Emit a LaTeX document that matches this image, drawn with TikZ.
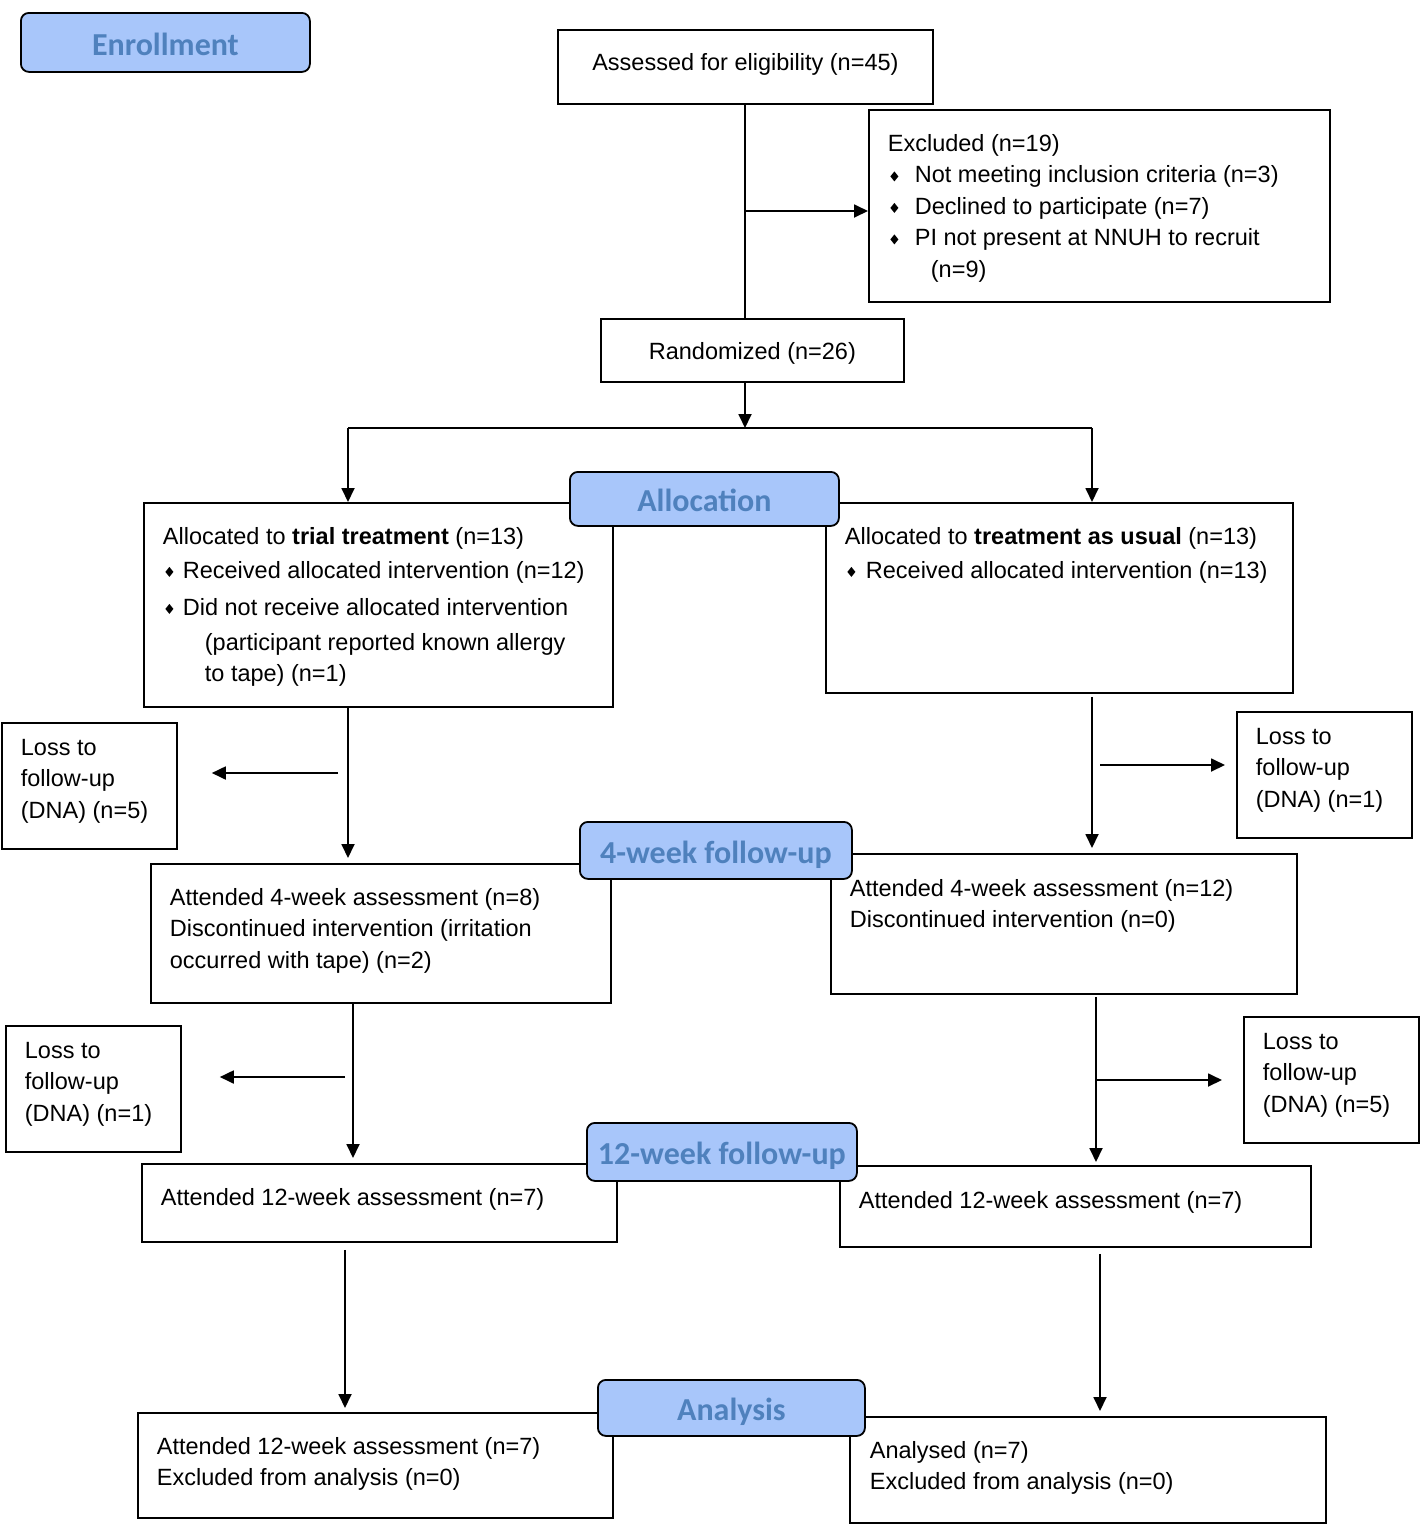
\documentclass[tikz,border=0pt]{standalone}
\usepackage{fontspec}
\setmainfont{Liberation Sans}
\newfontfamily\stagefont{Carlito}
\usetikzlibrary{arrows.meta}
\definecolor{stagefill}{RGB}{168,198,250}
\definecolor{stageblue}{RGB}{79,129,189}
% box text: width, height, first baseline, lines
\newcommand\boxtext[4]{\parbox[t][#2pt][t]{#1pt}{\raggedright\leftskip=19pt\rule{0pt}{#3pt}#4}}
\newcommand\dia[1]{\makebox[#1pt][l]{\hspace{2.5pt}\tikz[baseline=0pt]\fill (0pt,6.5pt) -- (4pt,11.5pt) -- (8pt,6.5pt) -- (4pt,1.5pt) -- cycle;}}

\begin{document}
\begin{tikzpicture}[
    x=1pt, y=-1pt,
    box/.style = {
      draw=black,
      line width=1.8pt,
      anchor=north west,
      inner sep=0pt,
      font=\fontsize{23.5}{31.5}\selectfont,
    },
    stage/.style = {
      draw=black,
      line width=1.8pt,
      rounded corners=8pt,
      fill=stagefill,
      text=stageblue,
      anchor=north west,
      inner sep=0pt,
      text height=28pt,
      text depth=2pt,
      font=\stagefont\bfseries\fontsize{32}{32}\selectfont,
    },
    arr/.style = {
      draw=black,
      line width=1.8pt,
      -{Triangle[length=14pt,width=13pt]},
    },
    line/.style = {
      draw=black,
      line width=1.8pt,
    },
  ]
  \useasboundingbox (0,0) rectangle (1423,1524);

  % boxes
  \node[box] (assess) at (557,29) {\boxtext{375}{74}{40.4}{\centering Assessed for eligibility (n=45)}};
  \node[box] (excl) at (868,109) {\boxtext{461}{192}{41.5}{Excluded (n=19)\\
      \dia{27}Not meeting inclusion criteria (n=3)\\
      \dia{27}Declined to participate (n=7)\\
      \dia{27}PI not present at NNUH to recruit\\
      \hspace*{43pt}(n=9)}};
  \node[box] (rand) at (600,318) {\boxtext{303}{63}{40.4}{\centering Randomized (n=26)}};

  \node[box] (trial) at (143,502) {\boxtext{469}{204}{41.5}{Allocated to \textbf{trial treatment} (n=13)\\[2.5pt]
      \dia{20}Received allocated intervention (n=12)\\[5.5pt]
      \dia{20}Did not receive allocated intervention\\[3.5pt]
      \hspace*{42pt}(participant reported known allergy\\
      \hspace*{42pt}to tape) (n=1)}};
  \node[box] (usual) at (825,502) {\boxtext{467}{190}{41.5}{Allocated to \textbf{treatment as usual} (n=13)\\[2.5pt]
      \dia{21}Received allocated intervention (n=13)}};

  \node[box] (lossA) at (1,722) {\boxtext{175}{126}{32.5}{Loss to\\ follow-up\\ (DNA) (n=5)}};
  \node[box] (lossB) at (1236,711) {\boxtext{175}{126}{32.5}{Loss to\\ follow-up\\ (DNA) (n=1)}};

  \node[box] (trial4) at (150,863) {\boxtext{460}{139}{41.5}{Attended 4-week assessment (n=8)\\
      Discontinued intervention (irritation\\
      occurred with tape) (n=2)}};
  \node[box] (usual4) at (830,853) {\boxtext{466}{140}{42.5}{Attended 4-week assessment (n=12)\\
      Discontinued intervention (n=0)}};

  \node[box] (lossC) at (5,1025) {\boxtext{175}{126}{32.5}{Loss to\\ follow-up\\ (DNA) (n=1)}};
  \node[box] (lossD) at (1243,1016) {\boxtext{175}{126}{32.5}{Loss to\\ follow-up\\ (DNA) (n=5)}};

  \node[box] (trial12) at (141,1163) {\boxtext{475}{78}{41.5}{Attended 12-week assessment (n=7)}};
  \node[box] (usual12) at (839,1165) {\boxtext{471}{81}{42.5}{Attended 12-week assessment (n=7)}};

  \node[box] (trialAn) at (137,1412) {\boxtext{475}{105}{41.5}{Attended 12-week assessment (n=7)\\
      Excluded from analysis (n=0)}};
  \node[box] (usualAn) at (849,1416) {\boxtext{476}{106}{41.5}{\hspace*{1pt}Analysed (n=7)\\
      \hspace*{1pt}Excluded from analysis (n=0)}};

  % connectors
  \coordinate (split) at (745,211);
  \coordinate (forkL) at (348,428);
  \coordinate (forkM) at (745,428);
  \coordinate (forkR) at (1092,428);
  \draw[line] (assess.south -| split) -- (rand.north -| split);
  \draw[arr] (split) -- (excl.west |- split);
  \draw[arr] (rand.south -| forkM) -- (forkM);
  \draw[line] (forkL) -- (forkR);
  \draw[arr] (forkL) -- (trial.north -| forkL);
  \draw[arr] (forkR) -- (usual.north -| forkR);

  \coordinate (trunkA) at (348,773);
  \coordinate (trunkB) at (1092,765);
  \draw[arr, shorten >=5pt] (trial.south -| trunkA) -- (trial4.north -| trunkA);
  \draw[arr, shorten <=10pt, shorten >=34pt] (trunkA) -- (lossA.east |- trunkA);
  \draw[arr, shorten <=3pt, shorten >=5pt] (usual.south -| trunkB) -- (usual4.north -| trunkB);
  \draw[arr, shorten <=8pt, shorten >=11pt] (trunkB) -- (lossB.west |- trunkB);

  \coordinate (trunkC) at (353,1077);
  \coordinate (trunkD) at (1096,1080);
  \draw[arr, shorten >=5pt] (trial4.south -| trunkC) -- (trial12.north -| trunkC);
  \draw[arr, shorten <=8pt, shorten >=38pt] (trunkC) -- (lossC.east |- trunkC);
  \draw[arr, shorten <=2pt, shorten >=3pt] (usual4.south -| trunkD) -- (usual12.north -| trunkD);
  \draw[arr, shorten <=1pt, shorten >=21pt] (trunkD) -- (lossD.west |- trunkD);

  \coordinate (trunkE) at (345,1330);
  \coordinate (trunkF) at (1100,1330);
  \draw[arr, shorten <=7pt, shorten >=4pt] (trial12.south -| trunkE) -- (trialAn.north -| trunkE);
  \draw[arr, shorten <=6pt, shorten >=5pt] (usual12.south -| trunkF) -- (usualAn.north -| trunkF);

  % stage labels
  \node[stage, minimum width=289pt, minimum height=59pt] (enroll) at (20,12) {Enrollment};
  \node[stage, minimum width=269pt, minimum height=54pt] (alloc) at (569,471) {Allocation};
  \node[stage, minimum width=272pt, minimum height=57pt] (fourwk) at (579,821) {4-week follow-up};
  \node[stage, minimum width=270pt, minimum height=58pt] (twelvewk) at (586,1122) {12-week follow-up};
  \node[stage, minimum width=267pt, minimum height=56pt] (analysis) at (597,1379) {Analysis};
\end{tikzpicture}
\end{document}
